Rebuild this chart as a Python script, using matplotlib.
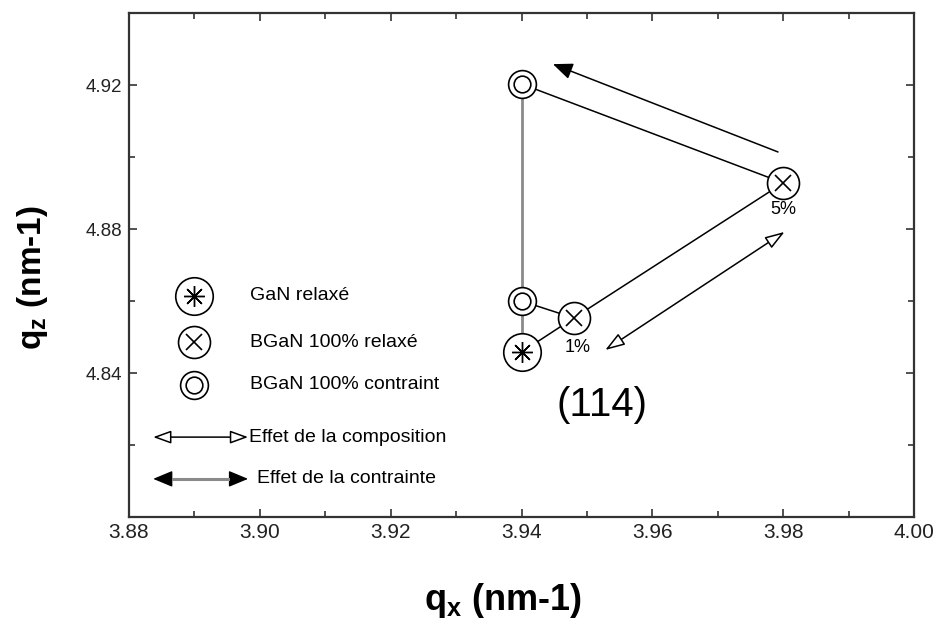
import matplotlib
matplotlib.use('Agg')
import matplotlib.pyplot as plt
from matplotlib.patches import FancyArrowPatch
from matplotlib.ticker import MultipleLocator

plt.rcParams['font.family'] = ['Liberation Sans', 'DejaVu Sans']
plt.rcParams['mathtext.fontset'] = 'custom'
plt.rcParams['mathtext.rm'] = 'Liberation Sans'
plt.rcParams['mathtext.bf'] = 'Liberation Sans:bold'
plt.rcParams['mathtext.it'] = 'Liberation Sans:italic'

# ---- data ----
gan_qx = [3.940]
gan_qz = [4.8458]
relaxed_qx = [3.948, 3.980]        # BGaN 100% relaxé : 1%, 5%
relaxed_qz = [4.8553, 4.8928]
strained_qx = [3.940, 3.940]       # BGaN 100% contraint : 1%, 5%
strained_qz = [4.8600, 4.9203]
comp_labels = ['1%', '5%']
comp_label_qx = [3.9486, 3.9800]
comp_label_qz = [4.8472, 4.8853]

# effect arrows (data coordinates)
strain_arrow = [(3.9792, 4.9014), (3.9448, 4.9258)]
comp_arrow = [(3.9528, 4.8464), (3.9802, 4.8792)]

legend_labels = ['GaN relaxé', 'BGaN 100% relaxé', 'BGaN 100% contraint',
                 'Effet de la composition', 'Effet de la contrainte']
legend_qz = [4.8614, 4.8486, 4.8367, 4.8222, 4.8106]
legend_marker_qx = 3.8899
legend_text_qx = [3.8985, 3.8985, 3.8985, 3.8983, 3.8995]
legend_arrow_qx = [3.8837, 3.8982]

fig = plt.figure(figsize=(9.38, 6.41), dpi=100)
ax = fig.add_axes([0.1375, 0.1934, 0.837, 0.7863])

ax.set_xlim(3.88, 4.00)
ax.set_ylim(4.80, 4.94)
ax.xaxis.set_major_locator(MultipleLocator(0.02))
ax.xaxis.set_minor_locator(MultipleLocator(0.01))
ax.yaxis.set_major_locator(MultipleLocator(0.04))
ax.yaxis.set_minor_locator(MultipleLocator(0.02))
ax.set_xticks([3.88, 3.90, 3.92, 3.94, 3.96, 3.98, 4.00])
ax.set_xticklabels(['3.88', '3.90', '3.92', '3.94', '3.96', '3.98', '4.00'])
ax.set_yticks([4.80, 4.84, 4.88, 4.92])
ax.set_yticklabels(['', '4.84', '4.88', '4.92'])
ax.tick_params(which='both', direction='in', top=True, right=True, color='#333333')
ax.tick_params(which='major', length=6, width=1.2)
ax.tick_params(which='minor', length=4, width=1.2)
ax.tick_params(axis='x', labelsize=15, pad=4, labelcolor='#222222')
ax.tick_params(axis='y', labelsize=13.5, pad=5, labelcolor='#222222')
for s in ax.spines.values():
    s.set_linewidth(1.6)
    s.set_color('#333333')

# lines
ax.plot([gan_qx[0], strained_qx[1]], [gan_qz[0], strained_qz[1]],
        color='#8a8a8a', lw=2, zorder=1)
ax.plot([gan_qx[0]] + relaxed_qx, [gan_qz[0]] + relaxed_qz, color='black', lw=1.1, zorder=1)
ax.plot([strained_qx[0], relaxed_qx[0]], [strained_qz[0], relaxed_qz[0]], color='black', lw=1.1, zorder=1)
ax.plot([relaxed_qx[1], strained_qx[1]], [relaxed_qz[1], strained_qz[1]], color='black', lw=1.1, zorder=1)


def gan_marker(x, z):
    ax.plot(x, z, 'o', ms=27, mfc='white', mec='black', mew=1.2, ls='none', zorder=3)
    ax.plot(x, z, marker=(8, 2, 0), ms=15, color='black', mew=1.0, ls='none', zorder=4)


def relaxed_marker(x, z):
    ax.plot(x, z, 'o', ms=23, mfc='white', mec='black', mew=1.2, ls='none', zorder=3)
    ax.plot(x, z, 'x', ms=12, color='black', mew=1.2, ls='none', zorder=4)


def strained_marker(x, z):
    ax.plot(x, z, 'o', ms=20, mfc='white', mec='black', mew=1.2, ls='none', zorder=3)
    ax.plot(x, z, 'o', ms=12, mfc='none', mec='black', mew=1.2, ls='none', zorder=4)


gan_marker(gan_qx, gan_qz)
relaxed_marker(relaxed_qx, relaxed_qz)
strained_marker(strained_qx, strained_qz)

for lab, x, z in zip(comp_labels, comp_label_qx, comp_label_qz):
    ax.text(x, z, lab, fontsize=13, ha='center', va='center')

ax.text(3.9523, 4.8311, '(114)', fontsize=29, ha='center', va='center')

# effect arrows
ax.add_patch(FancyArrowPatch(strain_arrow[0], strain_arrow[1],
                             arrowstyle='-|>,head_length=12,head_width=5',
                             color='black', lw=1.1, shrinkA=0, shrinkB=0, zorder=2))
ax.add_patch(FancyArrowPatch(comp_arrow[0], comp_arrow[1],
                             arrowstyle='<|-|>,head_length=12,head_width=4',
                             fc='white', ec='black', lw=1.1, shrinkA=0, shrinkB=0, zorder=2))

# legend
gan_marker([legend_marker_qx], [legend_qz[0]])
relaxed_marker([legend_marker_qx], [legend_qz[1]])
strained_marker([legend_marker_qx], [legend_qz[2]])
for lab, x, z in zip(legend_labels, legend_text_qx, legend_qz):
    ax.text(x, z, lab, fontsize=14, ha='left', va='center')

ax.add_patch(FancyArrowPatch((legend_arrow_qx[0], legend_qz[3]), (legend_arrow_qx[1], legend_qz[3]),
                             arrowstyle='<|-|>,head_length=11,head_width=4',
                             fc='white', ec='black', lw=1.1, shrinkA=0, shrinkB=0))
ax.add_patch(FancyArrowPatch((legend_arrow_qx[0], legend_qz[4]), (legend_arrow_qx[1], legend_qz[4]),
                             arrowstyle='<|-|>,head_length=12,head_width=5',
                             fc='black', ec='black', lw=1.0, shrinkA=0, shrinkB=0))
ax.plot([legend_arrow_qx[0] + 0.003, legend_arrow_qx[1] - 0.003], [legend_qz[4]] * 2,
        color='#8a8a8a', lw=2.2, zorder=3)

fig.text(503 / 938, 1 - 600 / 641, r'$\mathbf{q}_\mathbf{x}$ (nm-1)', fontsize=26,
         fontweight='bold', ha='center', va='center')
fig.text(33 / 938, 1 - 278 / 641, r'$\mathbf{q}_\mathbf{z}$ (nm-1)', fontsize=24,
         fontweight='bold', ha='center', va='center', rotation=90)

fig.savefig('out.png', dpi=100)
